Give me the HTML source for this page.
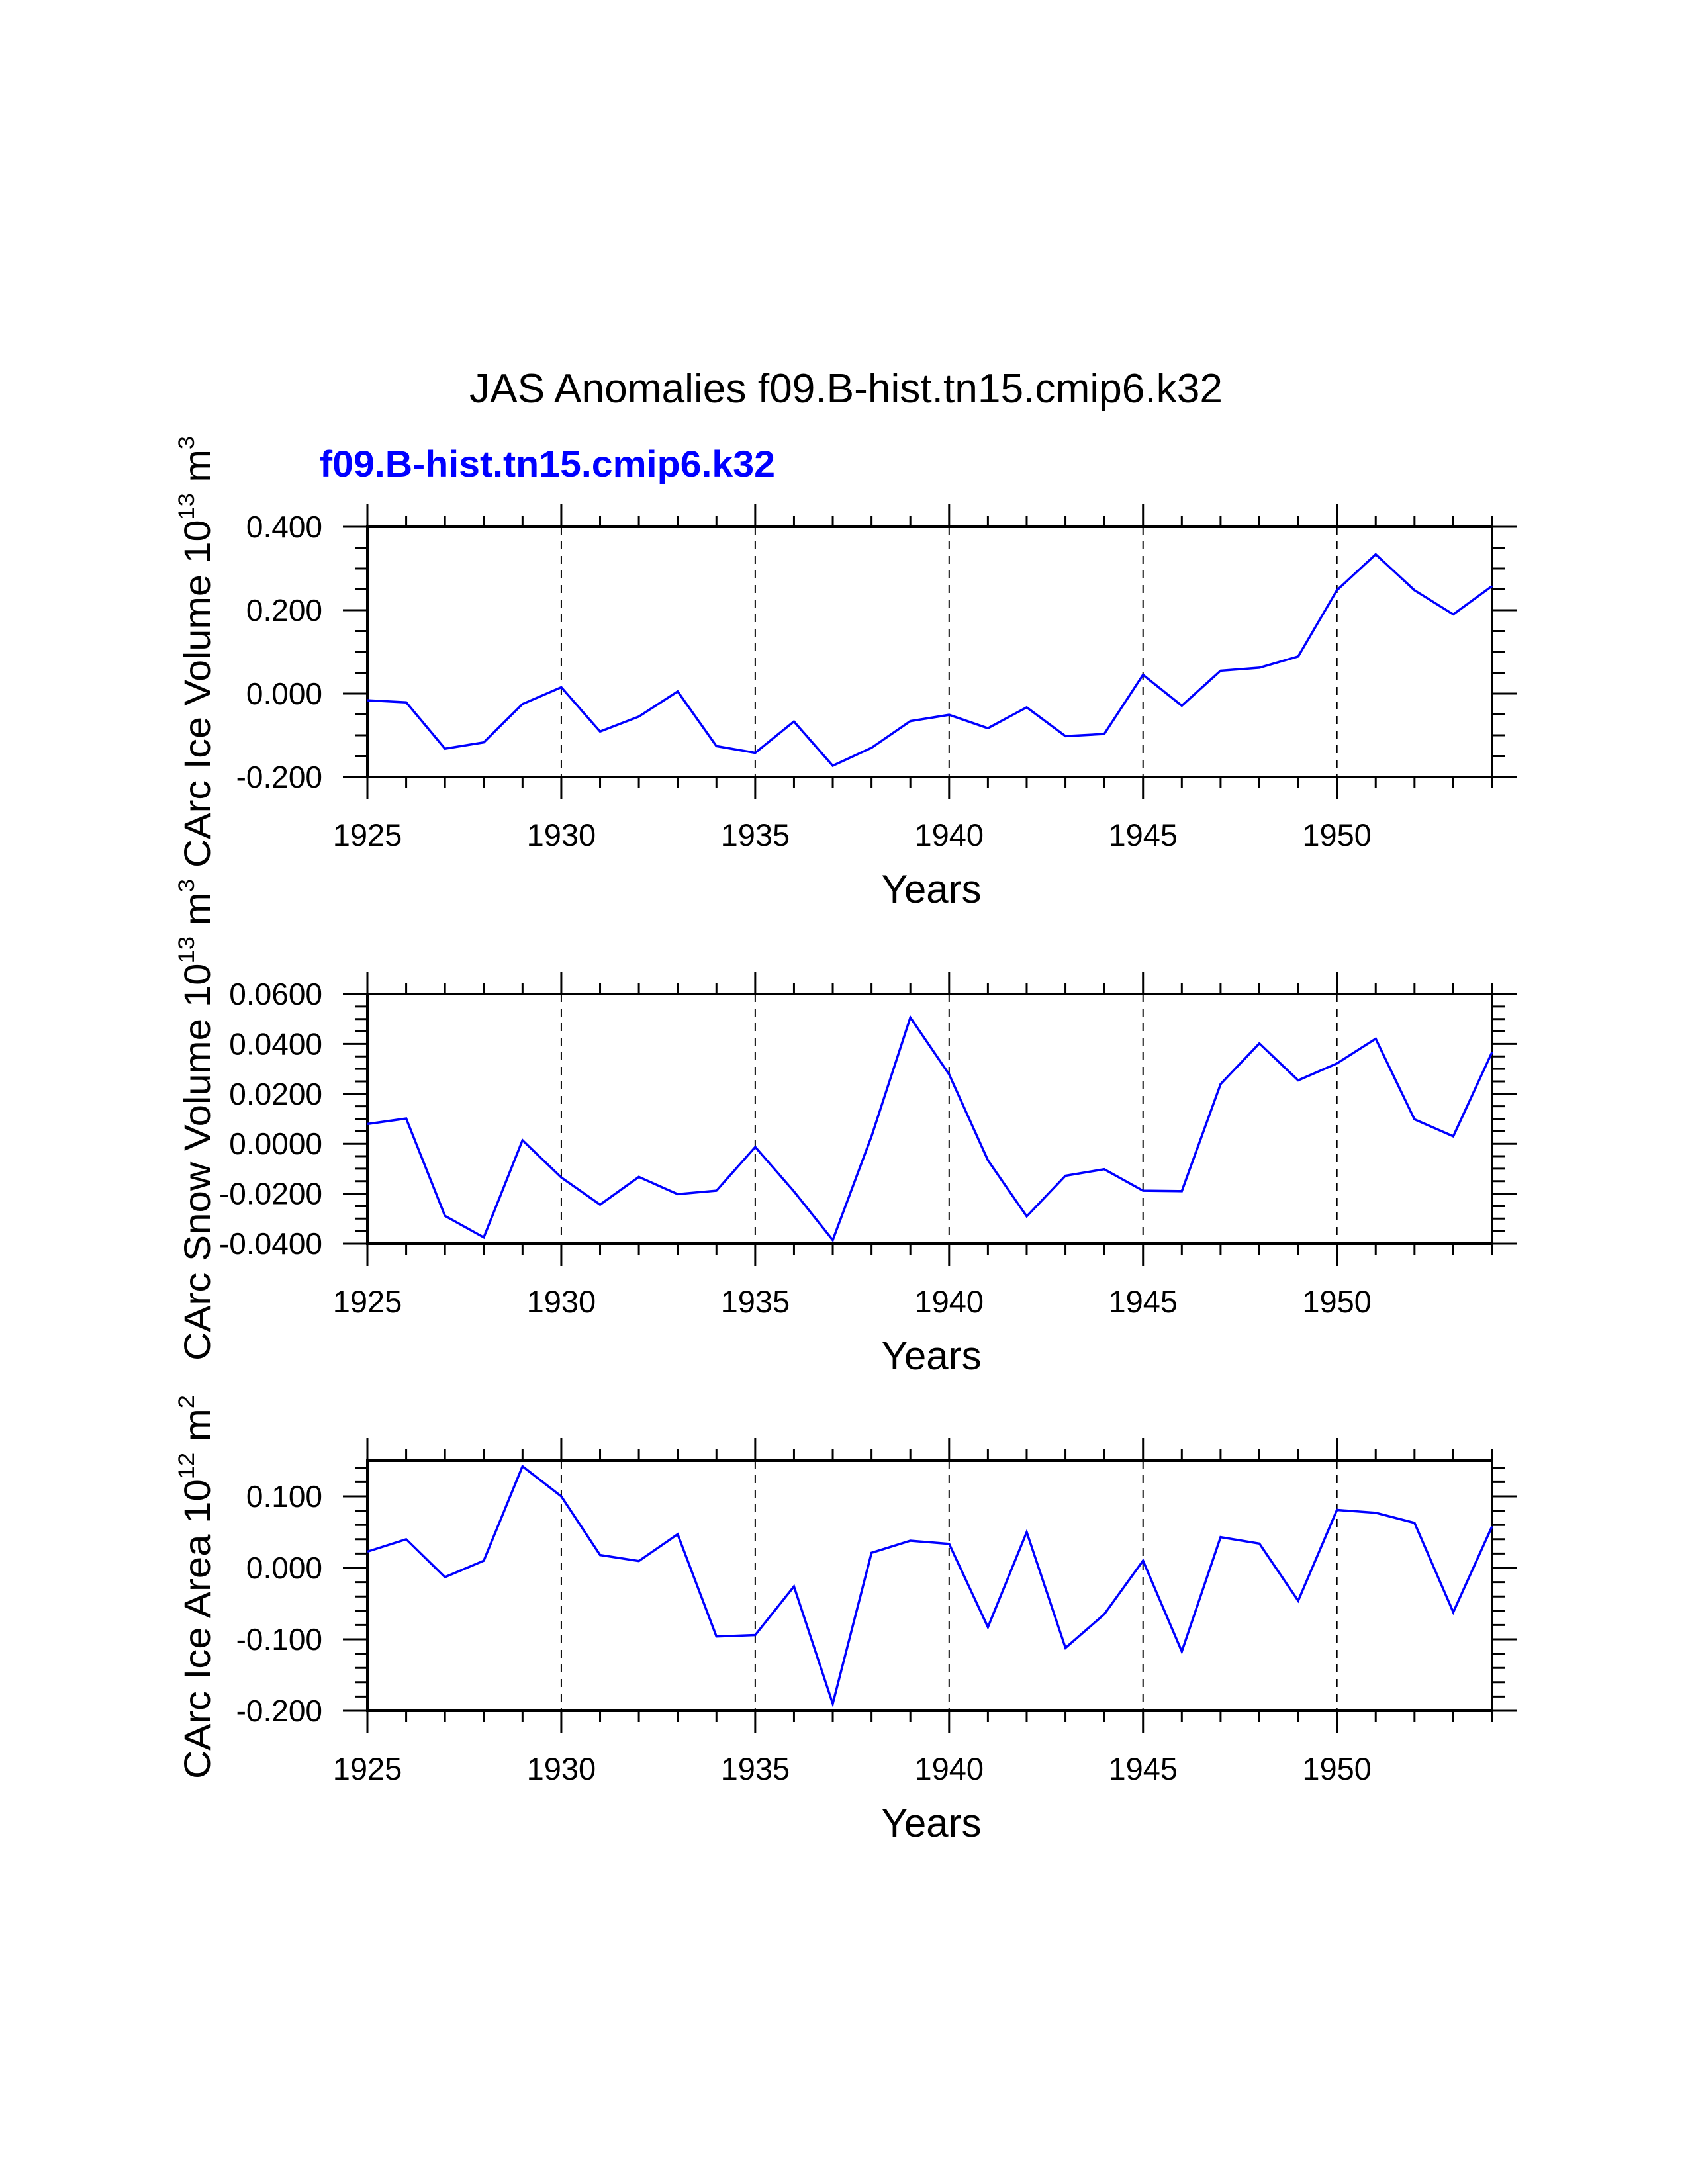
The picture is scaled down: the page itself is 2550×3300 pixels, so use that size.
<!DOCTYPE html>
<html><head><meta charset="utf-8"><title>JAS Anomalies</title>
<style>html,body{margin:0;padding:0;background:#fff}svg{display:block}</style></head>
<body>
<svg id="chart" xmlns="http://www.w3.org/2000/svg" width="2550" height="3300" viewBox="0 0 2550 3300" font-family="'Liberation Sans', Arial, sans-serif">
<rect width="2550" height="3300" fill="#fff"/>
<text x="1278" y="608" font-size="62" text-anchor="middle" textLength="1138" lengthAdjust="spacingAndGlyphs">JAS Anomalies f09.B-hist.tn15.cmip6.k32</text>
<text x="483" y="720" font-size="56" font-weight="bold" fill="#0000ff" textLength="688" lengthAdjust="spacingAndGlyphs">f09.B-hist.tn15.cmip6.k32</text>
<g id="plots"></g>
</svg>
<script>
const years = [1925,1926,1927,1928,1929,1930,1931,1932,1933,1934,1935,1936,1937,1938,1939,1940,1941,1942,1943,1944,1945,1946,1947,1948,1949,1950,1951,1952,1953,1954];
const iceVolume = [-0.016,-0.021,-0.132,-0.117,-0.025,0.015,-0.091,-0.055,0.005,-0.126,-0.142,-0.067,-0.173,-0.130,-0.066,-0.051,-0.083,-0.033,-0.102,-0.097,0.045,-0.029,0.055,0.062,0.089,0.248,0.334,0.248,0.190,0.258];
const snowVolume = [0.0079,0.0101,-0.0289,-0.0375,0.0014,-0.0135,-0.0244,-0.0133,-0.0202,-0.0188,-0.0013,-0.0191,-0.0386,0.003,0.0506,0.0278,-0.0066,-0.0291,-0.0128,-0.0102,-0.0188,-0.019,0.0239,0.0402,0.0254,0.0322,0.0421,0.0098,0.003,0.0367];
const iceArea = [0.0227,0.040,-0.013,0.010,0.142,0.100,0.018,0.0095,0.047,-0.096,-0.094,-0.026,-0.190,0.021,0.038,0.0335,-0.083,0.050,-0.112,-0.065,0.010,-0.117,0.043,0.034,-0.046,0.081,0.077,0.063,-0.062,0.058];
const xTickLabels = ["1925","1930","1935","1940","1945","1950"];
const iceVolTickLabels = ["-0.200","0.000","0.200","0.400"];
const snowTickLabels = ["-0.0400","-0.0200","0.0000","0.0200","0.0400","0.0600"];
const areaTickLabels = ["-0.200","-0.100","0.000","0.100"];

const NS = "http://www.w3.org/2000/svg";
const root = document.getElementById('plots');
const X0 = 555, X1 = 2254, YR0 = 1925, YR1 = 1954;
function xs(v){ return X0 + (v - YR0) / (YR1 - YR0) * (X1 - X0); }
function mk(tag, attrs, parent){ const e = document.createElementNS(NS, tag); for (const k in attrs) e.setAttribute(k, attrs[k]); parent.appendChild(e); return e; }

const panels = [
  {key:'ice-volume', top:796, bot:1174, ymin:-0.2, ymax:0.4, major:0.2, minor:0.05, labels:iceVolTickLabels, data:iceVolume,
   title:'CArc Ice Volume 10', exp:'13', unit:' m', uexp:'3', tcy:985, tlen:652},
  {key:'snow-volume', top:1502, bot:1879, ymin:-0.04, ymax:0.06, major:0.02, minor:0.005, labels:snowTickLabels, data:snowVolume,
   title:'CArc Snow Volume 10', exp:'13', unit:' m', uexp:'3', tcy:1692, tlen:728},
  {key:'ice-area', top:2207, bot:2585, ymin:-0.2, ymax:0.15, major:0.1, minor:0.02, labels:areaTickLabels, data:iceArea,
   title:'CArc Ice Area 10', exp:'12', unit:' m', uexp:'2', tcy:2398, tlen:580}
];

panels.forEach(p => {
  const g = mk('g', {}, root);
  
  
  const ys = v => p.bot - (v - p.ymin) / (p.ymax - p.ymin) * (p.bot - p.top);
  for (let yr = 1930; yr <= 1950; yr += 5) {
    const l = mk('line', {x1:xs(yr), x2:xs(yr), y1:p.top, y2:p.bot, stroke:'#000', 'stroke-width':2, 'stroke-dasharray':'12,10'}, g);
    
    
  }
  for (let yr = YR0; yr <= YR1; yr++) {
    const len = (yr % 5 === 0) ? 34 : 17;
    mk('line', {x1:xs(yr), x2:xs(yr), y1:p.top, y2:p.top - len, stroke:'#000', 'stroke-width':3}, g);
    mk('line', {x1:xs(yr), x2:xs(yr), y1:p.bot, y2:p.bot + len, stroke:'#000', 'stroke-width':3}, g);
  }
  const nMinor = Math.floor((p.ymax - p.ymin) / p.minor + 1e-6);
  const ratio = Math.round(p.major / p.minor);
  const majorOffset = Math.round(((Math.ceil(p.ymin / p.major - 1e-9) * p.major) - p.ymin) / p.minor);
  for (let i = 0; i <= nMinor; i++) {
    const v = p.ymin + i * p.minor;
    const isMajor = ((i - majorOffset) % ratio) === 0;
    const len = isMajor ? 37 : 19;
    mk('line', {x1:X0, x2:X0 - len, y1:ys(v), y2:ys(v), stroke:'#000', 'stroke-width':3}, g);
    mk('line', {x1:X1, x2:X1 + len, y1:ys(v), y2:ys(v), stroke:'#000', 'stroke-width':3}, g);
  }
  p.labels.forEach(lbl => {
    const t = mk('text', {x:487, y:ys(parseFloat(lbl)) + 16, 'font-size':46, 'text-anchor':'end'}, g);
    
    
    t.textContent = lbl;
  });
  xTickLabels.forEach(lbl => {
    const t = mk('text', {x:xs(parseFloat(lbl)), y:p.bot + 104, 'font-size':47, 'text-anchor':'middle'}, g);
    
    
    t.textContent = lbl;
  });
  const xt = mk('text', {x:1407, y:p.bot + 190, 'font-size':60, 'text-anchor':'middle'}, g);
  
  
  xt.textContent = 'Years';
  const yt = mk('text', {transform:'translate(317,' + p.tcy + ') rotate(-90)', 'font-size':56, 'text-anchor':'middle', textLength:p.tlen, lengthAdjust:'spacingAndGlyphs'}, g);
  
  
  yt.appendChild(document.createTextNode(p.title));
  const s1 = mk('tspan', {'font-size':34, dy:-24}, yt); s1.textContent = p.exp;
  const s2 = mk('tspan', {dy:24}, yt); s2.textContent = p.unit;
  const s3 = mk('tspan', {'font-size':34, dy:-24}, yt); s3.textContent = p.uexp;
  const fr = mk('rect', {x:X0, y:p.top, width:X1 - X0, height:p.bot - p.top, fill:'none', stroke:'#000', 'stroke-width':4}, g);
  
  
  const pts = p.data.map((v, i) => xs(years[i]).toFixed(1) + ',' + ys(v).toFixed(1)).join(' ');
  const pl = mk('polyline', {points:pts, fill:'none', stroke:'#0000ff', 'stroke-width':3.5, 'stroke-linejoin':'miter'}, g);
  
  
});
</script>
</body></html>
